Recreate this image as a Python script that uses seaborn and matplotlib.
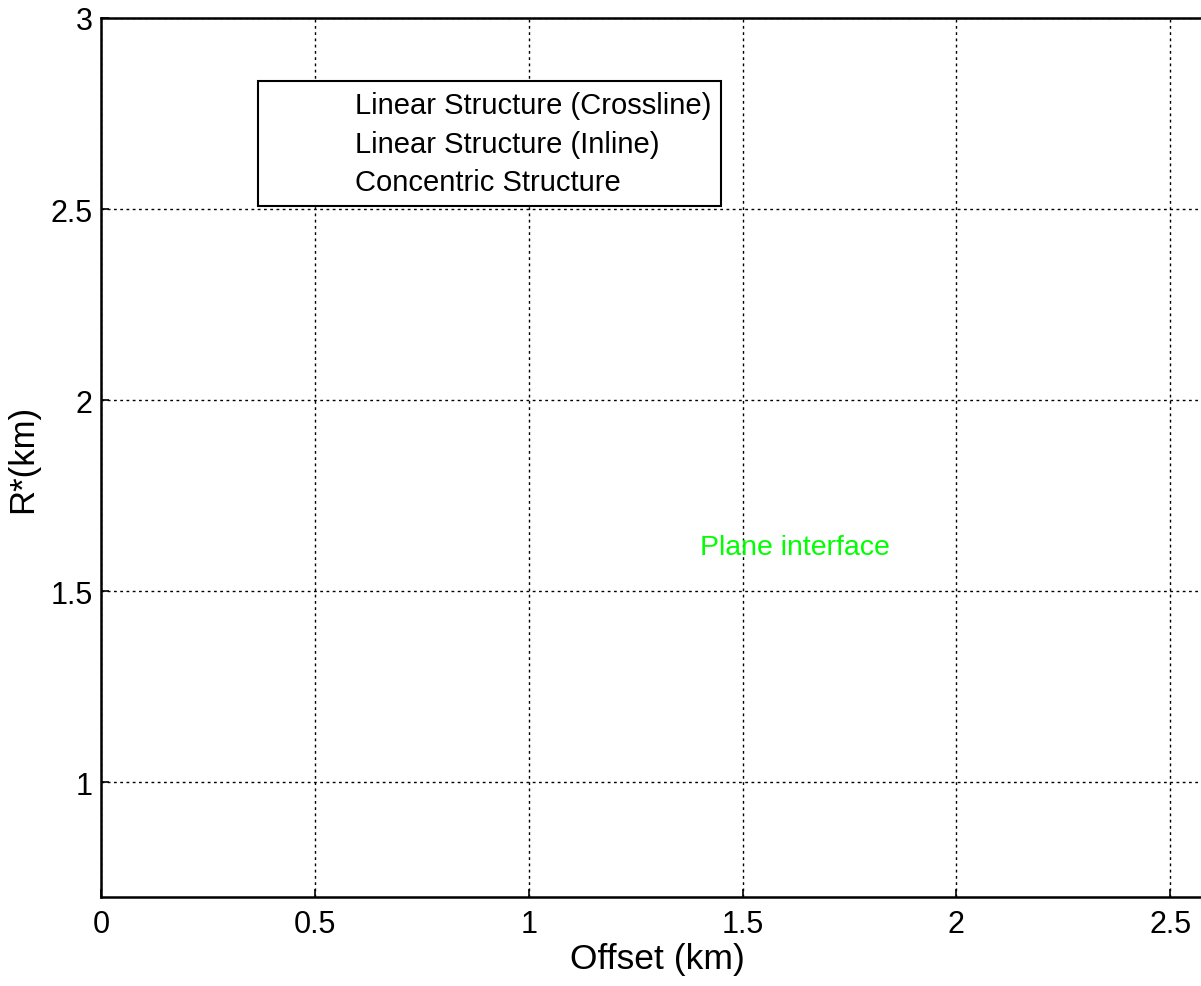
import numpy as np
import matplotlib
matplotlib.use("Agg")
import matplotlib.pyplot as plt
import seaborn as sns

# Series shown in the legend (no samples drawn for them)
series_labels = [
    "Linear Structure (Crossline)",
    "Linear Structure (Inline)",
    "Concentric Structure",
]
x_ticks = [0, 0.5, 1, 1.5, 2, 2.5]
y_ticks = [1, 1.5, 2, 2.5, 3]
annotation = "Plane interface"
annotation_xy = (1.4, 1.615)

sns.set_style("white", {"text.color": "black", "axes.labelcolor": "black",
                        "xtick.color": "black", "ytick.color": "black"})
plt.rcParams["font.family"] = ["Liberation Sans", "DejaVu Sans"]

fig = plt.figure(figsize=(12.01, 9.87), dpi=100)
ax = fig.add_axes([101 / 1201, 89 / 987, 1112 / 1201, 879 / 987])

for lab in series_labels:
    sns.lineplot(x=[np.nan], y=[np.nan], ax=ax, label=lab, linestyle="none")

ax.set_xlim(0, 2.6)
ax.set_ylim(0.7, 3)
ax.set_xticks(x_ticks)
ax.set_xticklabels([f"{t:g}" for t in x_ticks])
ax.set_yticks(y_ticks)
ax.set_yticklabels([f"{t:g}" for t in y_ticks])

ax.grid(True, color="black", linestyle=(0, (2, 2.5)), linewidth=1.0)
ax.tick_params(direction="in", length=6, width=1.2, labelsize=22,
               colors="black", top=False, right=False,
               bottom=True, left=True)
ax.tick_params(axis="x", pad=9)
ax.tick_params(axis="y", pad=6)
for sp in ax.spines.values():
    sp.set_color("black")
    sp.set_linewidth(1.8)

ax.set_xlabel("Offset (km)", fontsize=25.5, labelpad=2, color="black")
ax.set_ylabel("R*(km)", fontsize=25, labelpad=8, color="black")

ax.text(annotation_xy[0], annotation_xy[1], annotation, color=(0, 1, 0),
        fontsize=20.5, va="center", ha="left")

leg = ax.legend(loc="upper left", bbox_to_anchor=(0.1412, 0.9283),
                borderaxespad=0, fontsize=21, frameon=True, fancybox=False,
                handlelength=2.16, handletextpad=0.8, borderpad=0.35,
                labelspacing=0.36)
leg.get_frame().set_edgecolor("black")
leg.get_frame().set_linewidth(1.5)
leg.get_frame().set_alpha(1)
for t in leg.get_texts():
    t.set_color("black")

fig.savefig("out.png", dpi=100, facecolor="white")
